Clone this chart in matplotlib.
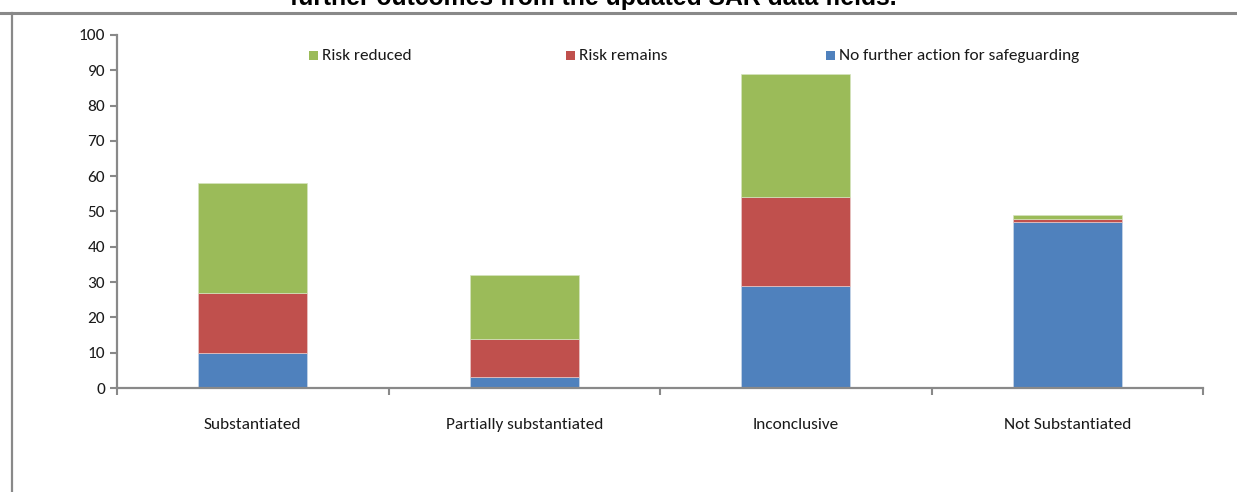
import matplotlib
matplotlib.use("Agg")
import matplotlib.pyplot as plt
from matplotlib import font_manager
from matplotlib.lines import Line2D
from matplotlib.patches import Rectangle

_installed = {f.name for f in font_manager.fontManager.ttflist}
_narrow = next((n for n in ["Carlito", "Liberation Sans Narrow", "Roboto Condensed", "Open Sans Condensed", "Lato"]
                if n in _installed), "DejaVu Sans")
plt.rcParams['font.family'] = [_narrow, 'DejaVu Sans']

categories = ["Substantiated", "Partially substantiated", "Inconclusive", "Not Substantiated"]
no_further_action = [10, 3, 29, 47]
risk_remains = [17, 11, 25, 1]
risk_reduced = [31, 18, 35, 1]
y_ticks = [0, 10, 20, 30, 40, 50, 60, 70, 80, 90, 100]
title_text = "further outcomes from the updated SAR data fields."

C_BLUE = "#4F81BD"
C_RED = "#C0504D"
C_GREEN = "#9BBB59"
AXIS_GREY = "#898989"
TXT = "#1a1a1a"
FS = 12.4

W, H = 1237, 492
fig = plt.figure(figsize=(W / 100, H / 100), dpi=100)
fig.patch.set_facecolor("white")

ax = fig.add_axes([117 / W, 1 - 388 / H, (1203 - 117) / W, (388 - 35) / H])

x = list(range(len(categories)))
bw = 0.4
ax.bar(x, no_further_action, bw, color=C_BLUE, edgecolor="#c9d6e8", linewidth=0.5)
base2 = no_further_action
ax.bar(x, risk_remains, bw, bottom=base2, color=C_RED, edgecolor="#e8c9c8", linewidth=0.5)
base3 = [a + b for a, b in zip(no_further_action, risk_remains)]
ax.bar(x, risk_reduced, bw, bottom=base3, color=C_GREEN, edgecolor="#d5e4bf", linewidth=0.5)

ax.set_xlim(-0.5, len(categories) - 0.5)
ax.set_ylim(0, 100)
ax.set_yticks(y_ticks)
ax.set_yticklabels([str(v) for v in y_ticks], fontsize=FS, color=TXT)

# category boundaries as major ticks, labels on minor ticks at centres
ax.set_xticks([i - 0.5 for i in range(len(categories) + 1)])
ax.set_xticklabels([])
ax.set_xticks(x, minor=True)
ax.set_xticklabels(categories, minor=True, fontsize=FS, color=TXT)
ax.tick_params(axis="x", which="major", length=5, width=1.5, color=AXIS_GREY, direction="out")
ax.tick_params(axis="x", which="minor", length=0, pad=21.5)
ax.tick_params(axis="y", length=5, width=1.5, color=AXIS_GREY, direction="out", pad=3.5)

for side in ("top", "right"):
    ax.spines[side].set_visible(False)
for side in ("left", "bottom"):
    ax.spines[side].set_color(AXIS_GREY)
    ax.spines[side].set_linewidth(1.6)

# legend row across the top of the plot
legend_items = [("Risk reduced", C_GREEN, 309), ("Risk remains", C_RED, 566), ("No further action for safeguarding", C_BLUE, 826)]
for label, col, px in legend_items:
    fig.patches.append(Rectangle((px / W, 1 - 60 / H), 9 / W, 9 / H, transform=fig.transFigure,
                                 facecolor=col, edgecolor="none"))
    fig.text((px + 13) / W, 1 - 56 / H, label, fontsize=FS, va="center", ha="left", color=TXT)

# outer frame lines
fig.add_artist(Line2D([0, 1], [1 - 13 / H, 1 - 13 / H], transform=fig.transFigure, color=AXIS_GREY, linewidth=2.2))
fig.add_artist(Line2D([11.5 / W, 11.5 / W], [0, 1 - 13 / H], transform=fig.transFigure, color=AXIS_GREY, linewidth=1.6))

fig.text(593 / W, 1 - 4.5 / H, title_text, fontsize=17.8, fontweight="bold", family=["Liberation Sans", "DejaVu Sans"],
         ha="center", va="baseline", color="black")

fig.savefig("out.png", dpi=100, facecolor="white")
